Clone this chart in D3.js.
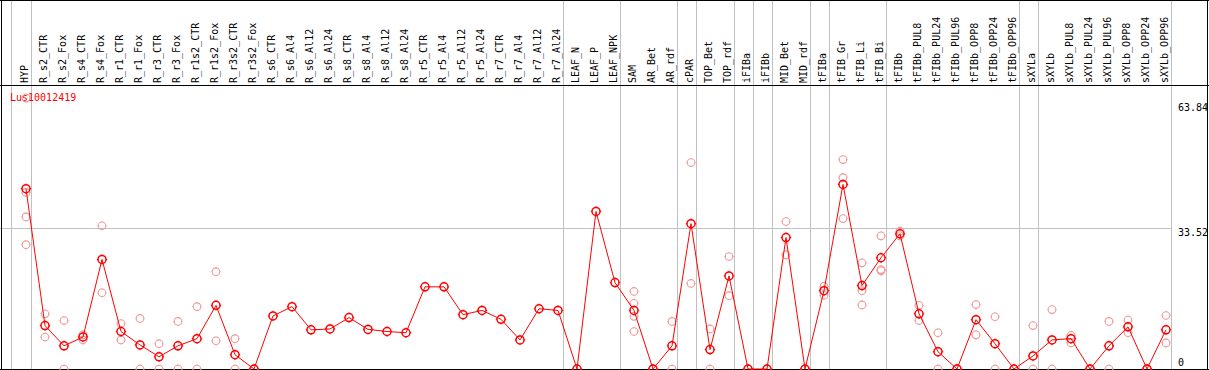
<!DOCTYPE html>
<html>
<head>
<meta charset="utf-8">
<script src="https://cdn.jsdelivr.net/npm/d3@7"></script>
<style>
body { margin: 0; background: #fff; }
svg text { font-family: "DejaVu Sans Mono", monospace; font-size: 10px; }
</style>
</head>
<body>
<div id="chart"></div>
<script>
(() => {

const geneName = "Lus10012419"

const categories = ["HYP", "R_s2_CTR", "R_s2_Fox", "R_s4_CTR", "R_s4_Fox", "R_r1_CTR", "R_r1_Fox",
    "R_r3_CTR", "R_r3_Fox", "R_r1s2_CTR", "R_r1s2_Fox", "R_r3s2_CTR", "R_r3s2_Fox", "R_s6_CTR",
    "R_s6_Al4", "R_s6_Al12", "R_s6_Al24", "R_s8_CTR", "R_s8_Al4", "R_s8_Al12", "R_s8_Al24",
    "R_r5_CTR", "R_r5_Al4", "R_r5_Al12", "R_r5_Al24", "R_r7_CTR", "R_r7_Al4", "R_r7_Al12", "R_r7_Al24",
    "LEAF_N", "LEAF_P", "LEAF_NPK", "SAM", "AR_Bet", "AR_rdf", "cPAR", "TOP_Bet", "TOP_rdf",
    "iFIBa", "iFIBb", "MID_Bet", "MID_rdf", "tFIBa", "tFIB_Gr", "tFIB_Li", "tFIB_Bi", "tFIBb",
    "tFIBb_PUL8", "tFIBb_PUL24", "tFIBb_PUL96", "tFIBb_OPP8", "tFIBb_OPP24", "tFIBb_OPP96",
    "sXYLa", "sXYLb", "sXYLb_PUL8", "sXYLb_PUL24", "sXYLb_PUL96", "sXYLb_OPP8", "sXYLb_OPP24", "sXYLb_OPP96"]

// mean expression per sample
const means = [42.8, 10.3, 5.5, 7.6, 26.0, 8.9, 5.7, 2.9, 5.5, 7.2, 15.1, 3.4, 0, 12.6,
    14.8, 9.3, 9.5, 12.2, 9.4, 8.9, 8.6, 19.5, 19.5, 12.9, 13.9, 11.8, 6.9, 14.3, 13.9,
    0, 37.4, 20.5, 13.9, 0, 5.5, 34.5, 4.6, 22.1, 0, 0, 31.2, 0, 18.6, 43.8, 19.8, 26.4, 32.1,
    13.1, 4.1, 0, 11.7, 6.0, 0, 3.1, 6.9, 7.2, 0, 5.5, 10.0, 0, 9.3]

// replicate values per sample
const replicates = [[64.3, 41.9, 36.1, 29.5], [13.1, 7.6], [11.5, 0], [8.1, 6.9], [34.0, 18.1],
    [10.8, 6.9], [12.0, 0], [6.0, 0], [11.3, 0], [14.8, 0], [23.1, 6.7], [7.2, 0], [0, 0],
    [], [], [], [], [], [], [], [], [], [], [], [], [], [], [], [],
    [], [], [], [18.4, 15.6, 12.5, 8.9], [0, 0], [11.3, 0], [49.0, 20.3], [9.5, 0], [26.7, 17.4],
    [0, 0], [0, 0], [35.0, 27.1], [0, 0], [19.6, 17.5], [49.7, 45.4, 35.7], [25.2, 18.6, 15.2],
    [31.6, 23.6, 23.3], [32.7, 31.6], [15.1, 11.5], [8.6, 0], [0, 0], [15.3, 8.1], [12.4, 0], [0, 0],
    [10.3, 0], [14.1, 0], [8.0, 6.2], [0, 0], [11.3, 0], [11.6, 8.6], [0, 0], [12.7, 6.2]]

// a separator line is drawn after each of these samples
const groupEnds = ["HYP", "R_r7_Al24", "LEAF_NPK", "AR_rdf", "cPAR", "TOP_rdf", "iFIBa", "iFIBb",
    "MID_rdf", "tFIBa", "tFIB_Bi", "tFIBb_OPP96", "sXYLa", "sXYLb_OPP96"]

const tickValues = [0, 33.52, 63.84]

const width = 1209, height = 370, headerY = 85

let svg = d3.select("#chart").append("svg")
            .attr('width', width)
            .attr('height', height)
            .style('display', 'block')

svg.append('rect').attr('width', width).attr('height', height).attr('fill', '#fff')

let x = d3.scalePoint().domain(categories).range([26, 1166])
let y = d3.scaleLinear().domain([0, 63.84]).range([369, 100])
let plotRight = x(categories[categories.length - 1]) + 4.7

// gray grid
let grid = svg.append('g').attr('stroke', '#c0c0c0').attr('shape-rendering', 'crispEdges')
grid.append('line')
    .attr('x1', 0).attr('x2', plotRight)
    .attr('y1', Math.round(y(33.52)) + 0.5).attr('y2', Math.round(y(33.52)) + 0.5)
let seps = [x(categories[0]) - 15.3].concat(groupEnds.map(d => x(d) + 4.7))
grid.selectAll('.sep')
    .data(seps).enter()
    .append('line')
    .attr('class', 'sep')
    .attr('x1', d => Math.round(d) + 0.5).attr('x2', d => Math.round(d) + 0.5)
    .attr('y1', 0).attr('y2', height)

// frame
let frame = svg.append('g').attr('stroke', '#000').attr('shape-rendering', 'crispEdges')
frame.append('line').attr('x1', 0).attr('x2', width).attr('y1', 0.5).attr('y2', 0.5)
frame.append('line').attr('x1', 0).attr('x2', width).attr('y1', headerY + 0.5).attr('y2', headerY + 0.5)
frame.append('line').attr('x1', 0).attr('x2', width).attr('y1', 369.5).attr('y2', 369.5)
frame.append('line').attr('x1', 1.5).attr('x2', 1.5).attr('y1', 0).attr('y2', height)
frame.append('line').attr('x1', 1207.5).attr('x2', 1207.5).attr('y1', 0).attr('y2', height)

// header labels
svg.append('g').selectAll('text')
    .data(categories).enter()
    .append('text')
    .attr('transform', d => "translate(" + (x(d) + 2.3) + "," + (headerY - 2) + ") rotate(-90)")
    .attr('fill', '#000')
    .text(d => d)

// right axis labels
svg.append('g').selectAll('text')
    .data(tickValues).enter()
    .append('text')
    .attr('x', 1178)
    .attr('y', d => Math.min(Math.max(y(d) + 8, 110.5), 366))
    .attr('fill', '#000')
    .text(d => d)

svg.append('text')
    .attr('x', 10).attr('y', 100.5)
    .attr('fill', '#ff0000')
    .text(geneName)

function marker(g, r, color, sw, tick) {
    g.append('circle').attr('r', r).attr('fill', 'none').attr('stroke', color).attr('stroke-width', sw)
    g.append('path')
        .attr('d', "M0," + (-r - tick) + "V" + (-r) + "M0," + r + "V" + (r + tick) +
              "M" + (-r - tick) + ",0H" + (-r) + "M" + r + ",0H" + (r + tick))
        .attr('stroke', color).attr('stroke-width', 1)
}

// replicate points
let repData = []
replicates.forEach((arr, i) => arr.forEach(v => repData.push({ cat: categories[i], v: v })))
svg.append('g').selectAll('g')
    .data(repData).enter()
    .append('g')
    .attr('transform', d => "translate(" + x(d.cat) + "," + y(d.v) + ")")
    .each(function() { marker(d3.select(this), 3.8, '#f09a9a', 1.1, 0.8) })

// mean line
let line = d3.line()
    .x((d, i) => x(categories[i]))
    .y(d => y(d))
svg.append('path')
    .datum(means)
    .attr('fill', 'none')
    .attr('stroke', '#ff0000')
    .attr('stroke-width', 1)
    .attr('d', line)

svg.append('g').selectAll('g')
    .data(means).enter()
    .append('g')
    .attr('transform', (d, i) => "translate(" + x(categories[i]) + "," + y(d) + ")")
    .each(function() { marker(d3.select(this), 4, '#ff0000', 1.5, 1.2) })

})();
</script>
</body>
</html>
